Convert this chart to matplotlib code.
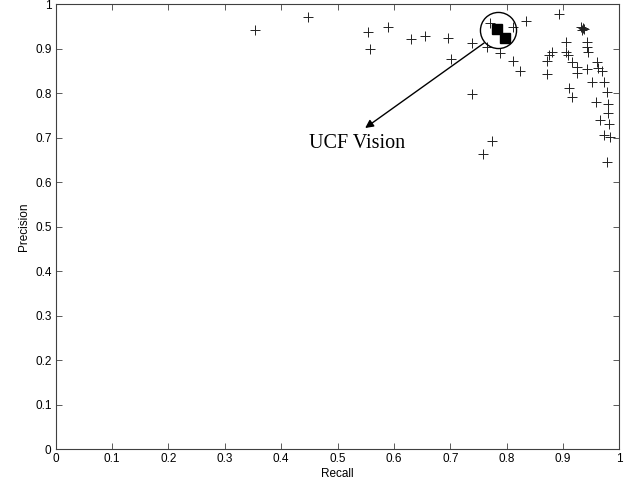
import matplotlib
matplotlib.use("Agg")
import matplotlib.pyplot as plt

recall = [0.354, 0.448, 0.554, 0.558, 0.590, 0.630, 0.655, 0.696, 0.701, 0.738,
          0.738, 0.765, 0.788, 0.771, 0.811, 0.774, 0.758, 0.834, 0.811, 0.823,
          0.893, 0.935, 0.932, 0.937, 0.934, 0.905, 0.943, 0.942, 0.945, 0.880,
          0.876, 0.872, 0.906, 0.909, 0.916, 0.925, 0.925, 0.942, 0.960, 0.963,
          0.969, 0.872, 0.951, 0.972, 0.910, 0.978, 0.916, 0.959, 0.980, 0.980,
          0.965, 0.982, 0.973, 0.983, 0.978]
precision = [0.942, 0.971, 0.938, 0.900, 0.949, 0.922, 0.929, 0.925, 0.877, 0.914,
             0.798, 0.905, 0.891, 0.959, 0.950, 0.693, 0.663, 0.963, 0.873, 0.850,
             0.978, 0.946, 0.948, 0.944, 0.942, 0.916, 0.916, 0.905, 0.893, 0.893,
             0.886, 0.873, 0.893, 0.886, 0.871, 0.858, 0.846, 0.855, 0.871, 0.856,
             0.849, 0.843, 0.826, 0.826, 0.813, 0.804, 0.791, 0.780, 0.777, 0.756,
             0.740, 0.731, 0.706, 0.701, 0.646]

ucf_recall = [0.783, 0.798]
ucf_precision = [0.944, 0.924]

xticks = [0, 0.1, 0.2, 0.3, 0.4, 0.5, 0.6, 0.7, 0.8, 0.9, 1]
yticks = [0, 0.1, 0.2, 0.3, 0.4, 0.5, 0.6, 0.7, 0.8, 0.9, 1]
xticklabels = ["0", "0.1", "0.2", "0.3", "0.4", "0.5", "0.6", "0.7", "0.8", "0.9", "1"]
yticklabels = ["0", "0.1", "0.2", "0.3", "0.4", "0.5", "0.6", "0.7", "0.8", "0.9", "1"]

plt.rcParams['font.family'] = ['Liberation Sans', 'DejaVu Sans']

fig = plt.figure(figsize=(6.42, 4.88), dpi=100)
ax = fig.add_axes([0.0868, 0.0793, 0.8779, 0.9119])

ax.plot(recall, precision, linestyle='none', marker='+', markersize=7,
        markeredgewidth=0.7, color='#222222')
ax.plot(ucf_recall, ucf_precision, linestyle='none', marker='s', markersize=7,
        color='black')

# circle around UCF Vision points
ax.plot([0.7845], [0.942], linestyle='none', marker='o', markersize=26,
        markerfacecolor='none', markeredgecolor='black', markeredgewidth=1.0)

ax.annotate('UCF Vision', xy=(0.549, 0.722), xytext=(0.449, 0.688),
            textcoords='data', fontsize=14.5, family=['Liberation Serif'],
            va='center', ha='left')
ax.annotate('', xy=(0.549, 0.722), xytext=(0.760, 0.913),
            arrowprops=dict(arrowstyle='-|>', color='black', lw=1.0,
                            mutation_scale=12, shrinkA=0, shrinkB=0))

ax.set_xlim(0, 1)
ax.set_ylim(0, 1)
ax.set_xticks(xticks)
ax.set_xticklabels(xticklabels)
ax.set_yticks(yticks)
ax.set_yticklabels(yticklabels)
ax.tick_params(direction='in', length=4, width=0.6, colors='#404040',
               labelcolor='black', labelsize=8.5, top=True, right=True, pad=3)
for s in ax.spines.values():
    s.set_color('#404040')
    s.set_linewidth(0.8)

ax.set_xlabel('Recall', fontsize=8.5, labelpad=2)
ax.set_ylabel('Precision', fontsize=8.5, labelpad=4)

fig.savefig('out.png', dpi=100)
